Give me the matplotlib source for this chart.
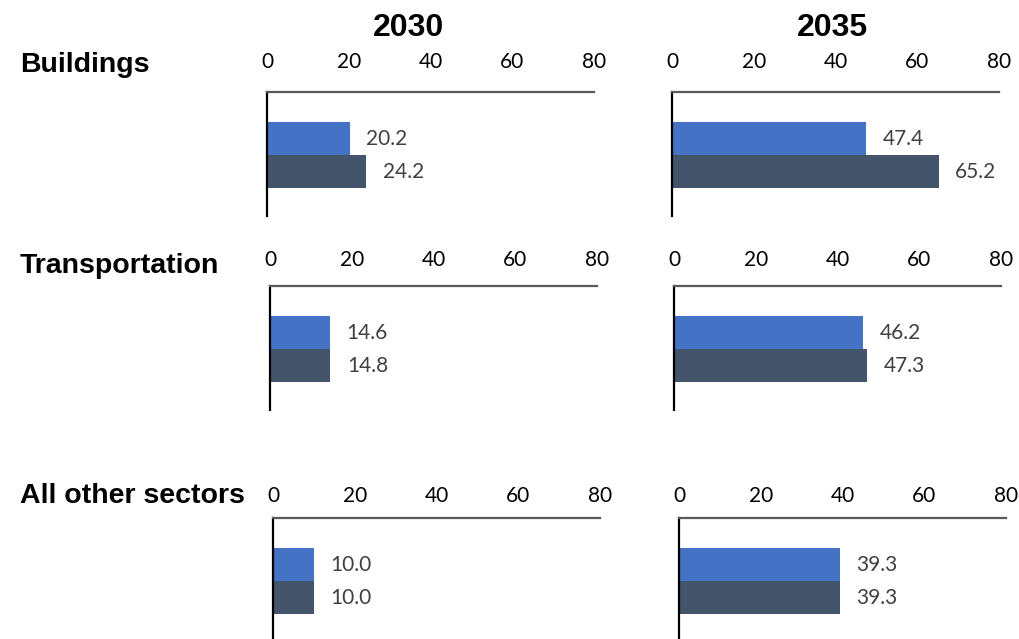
import matplotlib.pyplot as plt

sectors = ['Buildings', 'Transportation', 'All other sectors']
years = ['2030', '2035']
# two series per panel: upper (blue) and lower (slate)
upper = {'2030': [20.2, 14.6, 10.0], '2035': [47.4, 46.2, 39.3]}
lower = {'2030': [24.2, 14.8, 10.0], '2035': [65.2, 47.3, 39.3]}
ticks = [0, 20, 40, 60, 80]

blue = '#4472C4'
slate = '#44546A'

W, H = 1020, 639
fig = plt.figure(figsize=(W / 100, H / 100), dpi=100)

# panel placement in pixels: (left col1, left col2, top spine y, tick pad)
rows = [(267, 672, 92, 14.5), (270, 674, 286, 11.5), (273, 679, 518, 8.5)]
panel_w = 327
panel_h = 124
label_base = [72, 273, 503]

for r, sector in enumerate(sectors):
    l1, l2, top, pad = rows[r]
    for c, year in enumerate(years):
        left = l1 if c == 0 else l2
        ax = fig.add_axes([left / W, 1 - (top + panel_h) / H, panel_w / W, panel_h / H])
        vals = [upper[year][r], lower[year][r]]
        ax.barh([0, 1], vals, height=1.0, color=[blue, slate])
        ax.set_xlim(0, 80)
        ax.set_ylim(2.35, -1.42)
        ax.xaxis.tick_top()
        ax.set_xticks(ticks)
        ax.tick_params(axis='x', length=0, pad=pad, labelsize=15, labelcolor='black')
        for t in ax.get_xticklabels():
            t.set_fontfamily('Lato')
        ax.set_yticks([])
        ax.spines['right'].set_visible(False)
        ax.spines['bottom'].set_visible(False)
        ax.spines['top'].set_color('#595959')
        ax.spines['top'].set_linewidth(1.6)
        ax.spines['left'].set_color('black')
        ax.spines['left'].set_linewidth(1.6)
        for y, v in zip([0, 1], vals):
            ax.annotate(f'{v:.1f}', (v, y), xytext=(12, 0), textcoords='offset points',
                        va='center', ha='left', fontsize=15, family='Lato', color='#404040')

    fig.text(20 / W, 1 - label_base[r] / H, sector, ha='left', va='baseline',
             fontsize=20.5, fontweight='bold', family='Liberation Sans')

fig.text(409 / W, 1 - 36 / H, '2030', ha='center', va='baseline',
         fontsize=23, fontweight='bold', family='Liberation Sans')
fig.text(832 / W, 1 - 36 / H, '2035', ha='center', va='baseline',
         fontsize=23, fontweight='bold', family='Liberation Sans')

fig.savefig('out.png', dpi=100)
